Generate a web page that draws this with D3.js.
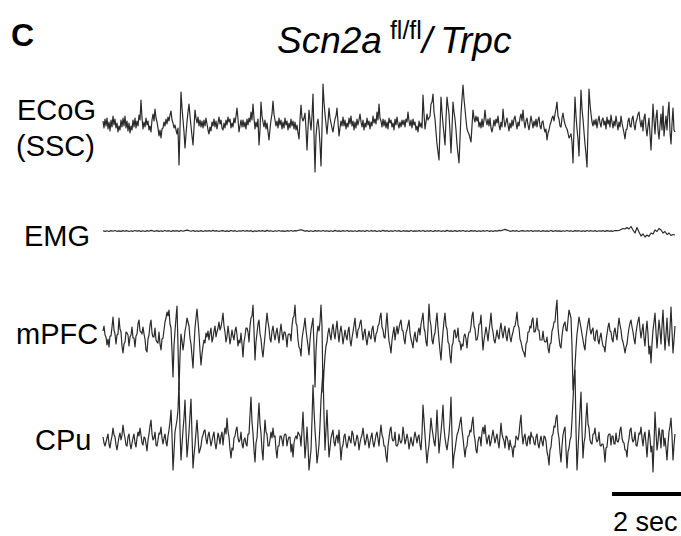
<!DOCTYPE html>
<html>
<head>
<meta charset="utf-8">
<script src="https://cdn.jsdelivr.net/npm/d3@7"></script>
<style>
  html, body { margin: 0; padding: 0; background: #fff; }
  svg { display: block; }
  text { font-family: "Liberation Sans", Arial, Helvetica, sans-serif; fill: #000; }
</style>
</head>
<body>
<svg id="chart" width="681" height="536"></svg>
<script>
// Sampling intervals (s): field potentials and EMG
const dtLfp = 0.029;
const dtEmg = 0.058;

// Channel names
const channels = ["ECoG", "EMG", "mPFC", "CPu"];

// ECoG over somatosensory cortex (a.u., upward positive)
const ecog = [
  3,-4,5,-2,6,-5,2,-7,4,-3,8,-1,5,-4,1,-8,-2,-6,4,-3,
  6,-2,8,-4,3,-7,1,-9,-2,-6,4,-3,6,-4,3,-2,9,4,24,6,
  -5,2,-3,6,-1,3,-6,-2,-8,4,10,3,15,6,2,-4,-12,-6,-14,-5,
  -4,2,-2,5,0,7,3,9,13,4,1,-4,-1,-6,-10,-4,-41,-5,32,16,
  4,-8,-24,-10,2,12,20,8,-2,-12,-21,-4,14,6,1,7,-2,4,-3,3,
  -4,4,-2,6,0,-6,-10,-3,-7,2,-2,5,-3,3,-5,1,7,0,4,-4,
  -6,1,-4,4,-1,7,2,5,-4,1,-3,6,1,8,16,5,-8,-2,4,-3,
  4,-3,2,-5,5,-1,6,2,12,4,20,6,-5,2,-3,5,-21,-6,22,8,
  2,-3,4,-5,1,-8,-16,-5,4,10,23,10,4,-2,3,-4,6,-1,4,-5,
  2,-4,6,-1,3,-6,1,-4,5,-2,3,-5,2,-6,-1,-9,-15,4,19,6,
  3,6,11,-5,-26,-4,14,4,-6,8,30,-10,-48,-12,0,5,-5,-20,-42,-5,
  40,22,10,0,-10,2,16,6,1,-4,-8,-1,5,8,16,2,-12,-4,3,-2,
  7,-2,4,-5,1,-3,6,0,8,-2,3,-6,2,-4,5,-1,4,10,2,-3,
  4,-6,1,-3,6,-1,3,-5,2,-2,8,1,5,0,12,4,20,6,3,-3,
  5,-2,4,-4,2,-5,6,1,4,-3,1,-6,5,-1,7,0,-4,2,-3,4,
  -1,4,-3,5,2,12,3,-2,4,-4,5,-1,2,-6,-2,-8,3,-3,1,-4,
  29,10,-5,2,10,4,6,8,20,22,30,12,5,-8,-20,-28,-36,-5,27,12,
  0,-10,-21,5,27,18,10,-8,-29,-5,22,12,5,-6,-20,-30,-39,-15,10,25,
  39,25,15,4,-5,-8,-10,-14,-18,-2,14,6,2,8,3,7,-3,2,-4,5,
  -3,4,14,4,-1,5,-2,6,-4,-8,-3,4,-2,5,1,8,-1,-6,2,-3,
  15,4,-3,2,6,-1,-7,1,-4,4,-2,5,8,1,-5,2,-2,6,10,3,
  14,3,-4,3,6,-1,-6,1,8,2,-4,3,-2,5,-3,4,7,-2,-5,2,
  3,-4,-8,-5,-16,-9,-6,-1,2,6,8,3,10,15,22,8,5,-2,-3,6,
  11,4,0,-3,-5,-9,-14,-12,-10,-18,-39,-5,27,8,-5,-15,-32,2,34,15,
  5,-8,-20,-30,-43,-5,35,20,10,2,-2,4,-1,5,-4,3,8,1,-3,4,
  6,-1,3,-5,7,0,4,-3,9,2,-4,3,-2,8,1,-6,2,-3,8,1,
  -4,-9,-15,-6,-5,3,6,-2,-3,5,8,-1,-6,2,5,10,12,3,-3,4,
  -7,6,10,-4,-12,-2,6,-10,-26,-4,20,4,-10,6,14,-6,-15,-2,10,-6,
  18,-12,-2,8,-6,12,22,-8,-20,0,16,-6,-8
];

// Neck EMG (a.u.)
const emg = [
  0.3,-0.4,0.2,-0.5,0.4,-0.2,0.5,-0.3,0.1,-0.4,
  0.4,-0.2,0.3,-0.5,0.2,-0.3,0.5,-0.1,0.3,-0.4,
  0.2,-0.5,0.4,-0.2,0.6,0.1,-0.3,0.4,-0.4,0.2,
  -0.3,0.5,-0.2,0.3,-0.5,0.4,-0.1,0.3,-0.4,0.5,
  -0.2,0.4,0.8,0.3,-0.3,0.5,-0.4,0.2,-0.3,0.4,
  -0.5,0.3,-0.2,0.4,-0.3,0.6,-0.2,0.3,-0.5,0.2,
  0.4,-0.3,0.1,-0.4,0.5,-0.2,0.3,-0.5,0.2,-0.1,
  0.5,-0.3,0.4,-0.2,0.3,-0.6,0.2,-0.3,0.4,-0.2,
  0.3,-0.4,0.6,-0.1,0.2,-0.5,0.3,-0.3,0.5,-0.2,
  0.1,-0.4,0.3,-0.2,0.5,-0.3,0.4,0.2,0.8,1.2,
  0.6,-0.2,0.3,-0.4,0.2,-0.5,0.4,-0.1,0.3,-0.3,
  0.5,-0.2,0.2,-0.4,0.3,-0.5,0.6,-0.2,0.1,-0.3,
  0.4,-0.2,0.5,-0.4,0.2,-0.3,0.3,-0.5,0.4,-0.1,
  0.2,-0.4,0.5,-0.3,0.3,-0.2,0.4,-0.5,0.2,-0.3,
  0.6,-0.1,0.3,-0.4,0.2,-0.3,0.5,-0.2,0.4,-0.5,
  0.3,-0.2,0.1,-0.4,0.5,-0.3,0.2,-0.2,0.4,-0.3,
  0.5,-0.4,0.2,-0.1,0.3,-0.5,0.4,-0.2,0.3,-0.3,
  0.2,-0.4,0.6,-0.2,0.1,-0.3,0.4,-0.4,0.3,-0.2,
  0.5,-0.3,0.2,-0.5,0.4,-0.1,0.3,-0.4,0.2,-0.3,
  0.4,-0.2,0.5,-0.3,0.2,-0.4,0.3,-0.2,0.6,0.4,
  1.0,1.6,0.9,0.2,-0.3,0.4,-0.2,0.3,-0.5,0.2,
  0.4,-0.3,0.3,-0.2,0.5,-0.4,0.2,-0.1,0.3,-0.5,
  0.4,-0.2,0.2,-0.3,0.5,-0.4,0.3,-0.2,0.1,-0.4,
  0.3,-0.3,0.5,-0.2,0.2,-0.5,0.4,-0.1,0.3,-0.3,
  0.2,-0.4,0.5,-0.2,0.3,-0.3,0.4,-0.5,0.2,-0.2,
  0.3,-0.4,0.4,-0.1,0.2,-0.3,0.5,0.3,
  0.5,1.5,2.5,2,3.5,2,4.5,1,-2,3.5,
  -1,-5,-3,-6,-4,-5.5,-2,-3,1,-0.5,
  2.5,1,-2,-0.5,-3.5,-2,-4.5,-3.5,-4
];

// Medial prefrontal cortex LFP (a.u.)
const mpfc = [
  5,10,1,-1,-9,-3,-11,0,0,9,19,6,2,-8,1,2,18,7,4,-10,
  -17,-8,-6,4,3,1,-10,-1,1,9,-2,-2,-11,0,2,12,16,5,4,2,
  9,2,-3,-14,-16,-3,1,11,16,3,-1,-1,8,-4,-6,-7,4,-8,-14,-3,
  -2,6,14,18,24,20,26,12,8,-15,-41,-10,5,18,30,-10,-54,-20,2,-5,
  -14,-6,5,10,18,14,10,-2,-8,-20,-32,-10,8,18,27,15,2,-15,-29,-18,
  -10,-4,-7,3,-1,5,-4,3,8,-6,-2,5,10,-1,4,8,14,6,9,15,
  23,10,4,-6,-1,10,2,-8,-2,6,0,-4,5,9,1,-10,-4,-7,3,-8,
  -21,-6,0,8,8,4,-6,10,18,20,31,5,-24,-6,3,12,16,2,-3,-14,
  -21,-10,0,12,23,14,8,-3,-6,5,10,2,-4,3,8,0,-7,4,12,3,
  -4,4,4,-1,-11,1,2,2,-5,10,18,20,31,13,10,-4,-11,-13,-20,-3,
  4,10,18,6,-2,-10,-19,-4,6,12,18,-10,-51,-15,2,10,5,14,31,10,
  -56,-35,-20,-10,-6,3,8,1,-4,6,12,3,-3,7,15,3,-6,4,10,2,
  -8,-1,6,0,-4,5,9,-4,-10,-2,4,11,18,5,-2,6,8,13,16,5,
  -4,3,7,-3,-9,-1,5,-1,-3,7,10,0,-6,2,4,10,12,19,23,9,
  6,-1,-2,11,23,7,-5,-10,-17,-4,3,9,-4,4,10,2,8,13,16,6,
  5,-3,-8,3,6,11,16,3,-3,-7,-12,-1,4,-4,-6,4,8,1,12,17,
  23,8,4,-6,-10,8,32,16,10,-4,-8,0,3,14,23,8,-4,-15,-24,-8,
  4,15,23,10,7,-6,-8,-20,-27,-10,-7,5,6,-2,0,8,-5,-6,-14,-8,
  -10,0,2,-3,-12,-1,4,4,10,20,24,10,7,-4,-4,1,12,12,21,2,
  -14,-4,2,9,3,-5,5,13,23,9,4,-4,-7,-1,6,0,-3,7,13,4,
  -2,5,10,0,-5,4,8,-1,-6,0,4,9,10,16,24,11,8,-3,-6,-11,
  -15,-17,-21,-8,-6,4,4,10,8,16,18,4,4,8,18,6,6,-4,-4,-4,
  5,-4,-6,-6,-1,-12,-17,-8,-7,5,8,14,14,27,36,8,-2,-10,-12,0,
  8,12,14,6,5,16,26,22,18,-10,-54,-45,-30,-12,2,10,19,14,8,2,
  -4,-10,-14,-1,6,13,18,7,2,6,8,-3,-5,4,6,-4,-8,-1,3,-5,
  -10,-11,-16,-5,2,9,13,5,4,-3,-6,4,8,1,-4,9,18,11,6,-3,
  -6,-11,-17,-11,-8,1,8,13,16,9,4,-3,-8,3,10,15,19,7,-2,5,
  12,-2,-10,5,15,2,-18,-10,-27,-8,6,14,23,4,-12,2,16,6,-8,10,
  26,4,-14,2,18,-2,-10,8,29,5,-17,-4,10
];

// Caudate-putamen LFP (a.u.)
const cpu = [
  3,-3,-6,-2,2,6,-4,-8,-1,4,12,5,3,-5,-10,-3,3,7,0,5,
  15,7,2,-5,-6,3,6,-4,-9,-3,2,6,-3,-7,2,8,4,12,5,-3,
  -5,3,2,-4,-11,0,6,14,20,6,0,2,8,-5,-6,0,7,6,13,2,
  -4,2,6,-2,-6,4,10,18,30,5,-30,-12,8,14,20,30,58,10,-20,-5,
  10,22,40,10,-17,-5,8,25,41,5,-28,-15,-5,8,20,4,-13,-10,-6,2,
  5,9,10,1,-4,4,8,1,-6,-1,4,8,-3,-9,-2,7,3,-4,4,8,
  -5,5,12,6,22,9,3,-9,-18,-8,-10,2,4,10,13,2,-2,0,8,-4,
  -8,0,2,-4,-6,6,6,25,43,18,7,-10,-22,-3,2,20,37,16,7,-10,
  -20,2,20,8,6,-6,-6,0,8,2,12,3,4,-10,-18,-6,-6,4,4,0,
  -6,4,6,5,-6,0,3,3,-12,-4,-17,-3,2,4,1,8,6,4,-6,10,
  28,5,-18,-5,13,-5,-30,-20,-10,20,55,30,10,-5,-23,-15,-5,15,40,55,
  70,25,-10,10,30,5,-17,-8,2,6,10,-2,-6,2,5,-3,10,-5,-20,-8,
  -5,4,6,-3,-8,-2,4,0,-3,9,6,-2,-6,-1,5,1,-10,-3,2,5,
  12,3,-5,-1,6,1,-8,-2,3,7,-3,-7,-1,5,8,1,-6,6,15,5,
  2,-6,-6,-16,-22,-6,2,10,13,2,-1,0,8,-5,-6,-4,6,-1,-3,0,
  13,5,-4,0,6,1,-9,-3,3,-3,-6,2,8,3,-3,3,5,-5,-10,6,
  35,20,5,-10,-23,-12,-5,8,22,12,5,-2,-6,8,30,8,-13,-2,8,20,
  35,12,2,-5,-10,-2,6,20,43,5,-28,-15,-10,-2,5,8,12,18,23,10,
  2,-8,-17,-8,-6,4,4,10,8,17,23,6,0,-10,-13,-2,3,3,-6,8,
  13,6,15,3,-4,2,5,-6,-2,4,10,3,-3,2,6,-2,-8,4,17,6,
  2,-1,-8,4,3,-2,-10,0,-6,-8,-17,-6,-7,4,2,0,6,17,25,6,
  -4,3,6,-3,-6,2,4,-4,8,3,3,-3,-5,3,6,-4,-8,-1,4,-2,
  -6,4,3,-1,-12,-16,-25,-10,-7,4,6,14,13,22,25,8,2,-12,-22,-6,
  5,10,13,-10,-28,-12,-8,0,3,20,40,60,70,10,-30,-10,10,30,48,10,
  -18,-3,3,22,37,16,12,0,-3,-4,6,6,12,2,-2,0,8,-5,-6,-4,
  -4,-10,-22,-8,-7,4,6,6,-5,4,4,-4,-4,7,-1,-2,1,10,13,2,
  -2,-3,-10,-10,-17,-4,1,10,12,2,-2,0,8,-5,-6,0,7,6,13,2,
  -6,4,8,-4,-17,-2,10,2,-12,-6,-32,-5,28,8,-10,-2,12,4,-8,10,
  10,-6,2,-8,-20,-4,8,14,22,4,-20,-5,6
];

const scaleBarSec = 2;

const svg = d3.select("#chart");

// Channel rows: data, sampling interval, baseline position (px) and pen width
const rows = [
  { data: ecog, dt: dtLfp, base: 124, pen: 1.2 },
  { data: emg,  dt: dtEmg, base: 231, pen: 1.2 },
  { data: mpfc, dt: dtLfp, base: 336, pen: 1.2 },
  { data: cpu,  dt: dtLfp, base: 440, pen: 1.2 }
];

// Time axis shared by all channels
const tMax = d3.max(rows, r => (r.data.length - 1) * r.dt);
const x = d3.scaleLinear().domain([0, tMax]).range([103, 675]);

const traceG = svg.append("g").attr("class", "traces");
rows.forEach(r => {
  const y = d3.scaleLinear().domain([-60, 60]).range([r.base + 60, r.base - 60]);
  const line = d3.line()
    .x((d, i) => x(i * r.dt))
    .y(d => y(d));
  traceG.append("path")
    .datum(r.data)
    .attr("d", line)
    .attr("fill", "none")
    .attr("stroke", "#2a2a2a")
    .attr("stroke-width", r.pen)
    .attr("stroke-linejoin", "round");
});

// Channel labels
const labelFont = 29;
const labels = [
  { text: "ECoG",  x: 17, y: 110 },
  { text: "(SSC)", x: 16, y: 146 },
  { text: channels[1], x: 24, y: 236 },
  { text: channels[2], x: 16, y: 334 },
  { text: channels[3], x: 35, y: 440 }
];
svg.append("g").selectAll("text")
  .data(labels)
  .join("text")
  .attr("x", d => d.x)
  .attr("y", d => d.y)
  .attr("dominant-baseline", "central")
  .attr("font-size", labelFont)
  .text(d => d.text);

// Panel letter
svg.append("text")
  .attr("x", 11).attr("y", 46)
  .attr("font-size", 32)
  .attr("font-weight", "bold")
  .text("C");

// Genotype title
const title = svg.append("text")
  .attr("x", 277).attr("y", 53)
  .attr("font-size", 37);
title.append("tspan").attr("font-style", "italic").text("Scn2a");
title.append("tspan").attr("dx", 8).attr("dy", -14).attr("font-size", 25).text("fl/fl");
title.append("tspan").attr("dy", 14).attr("font-style", "italic").text("/");
title.append("tspan").attr("dx", 8).attr("font-style", "italic").text("Trpc");

// Time scale bar
const barLen = x(scaleBarSec) - x(0);
const barRight = 681;
svg.append("line")
  .attr("x1", barRight - barLen).attr("x2", barRight)
  .attr("y1", 494).attr("y2", 494)
  .attr("stroke", "#000").attr("stroke-width", 4);
svg.append("text")
  .attr("x", 613).attr("y", 531)
  .attr("font-size", 27)
  .text(`${scaleBarSec} sec`);
</script>
</body>
</html>
